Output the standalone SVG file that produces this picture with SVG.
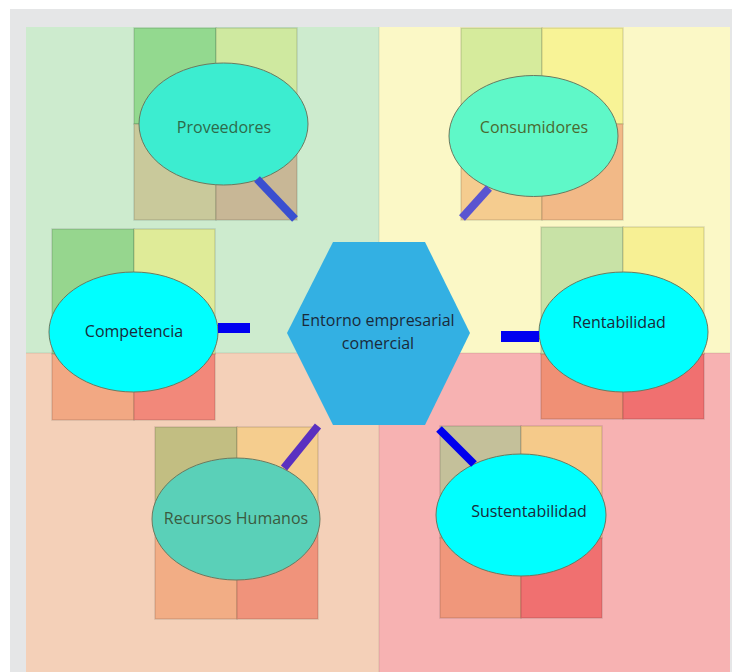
<svg xmlns="http://www.w3.org/2000/svg" width="732" height="672" viewBox="0 0 732 672">
<style>
.cell{stroke:#000;stroke-opacity:0.12;stroke-width:1.5}
.ell{stroke:#6a7a60;stroke-width:1}
.lbl{font-family:"Open Sans","Liberation Sans",sans-serif;font-size:16px;text-anchor:middle}
</style>
<rect x="0" y="0" width="732" height="672" fill="#ffffff"/>
<rect x="10" y="9" width="722" height="663" fill="#e5e6e7"/>
<g id="background">
<rect x="26" y="27" width="353" height="326" fill="#cdebce"/>
<rect x="379" y="27" width="351" height="326" fill="#fbf8c6"/>
<rect x="26" y="353" width="353" height="319" fill="#f4d0b8"/>
<rect x="379" y="353" width="351" height="319" fill="#f7b2b2"/>
<line x1="379" y1="27" x2="379" y2="672" stroke="#000" stroke-opacity="0.1"/>
<line x1="26" y1="353" x2="730" y2="353" stroke="#000" stroke-opacity="0.1"/>
</g>
<g id="proveedores">
<rect class="cell" x="134" y="28" width="82" height="96" fill="#93d98f"/>
<rect class="cell" x="216" y="28" width="81" height="96" fill="#cfe9a0"/>
<rect class="cell" x="134" y="124" width="82" height="96" fill="#c9c99b"/>
<rect class="cell" x="216" y="124" width="81" height="96" fill="#c8b796"/>
<ellipse class="ell" cx="223.5" cy="124" rx="84.5" ry="61" fill="#3cedd0"/>
<text class="lbl" x="224" y="133" fill="#2d6a4a">Proveedores</text>
</g>
<g id="consumidores">
<rect class="cell" x="461" y="28" width="81" height="96" fill="#d6eb9c"/>
<rect class="cell" x="542" y="28" width="81" height="96" fill="#f8f396"/>
<rect class="cell" x="461" y="124" width="81" height="96" fill="#f5cc8f"/>
<rect class="cell" x="542" y="124" width="81" height="96" fill="#f2b987"/>
<ellipse class="ell" cx="533.5" cy="136" rx="84.5" ry="60.5" fill="#5ff8c8"/>
<text class="lbl" x="534" y="133" fill="#4a6a30">Consumidores</text>
</g>
<g id="competencia">
<rect class="cell" x="52" y="229" width="82" height="125" fill="#96d68e"/>
<rect class="cell" x="134" y="229" width="81" height="125" fill="#dfeb98"/>
<rect class="cell" x="52" y="354" width="82" height="66" fill="#f2a883"/>
<rect class="cell" x="134" y="354" width="81" height="66" fill="#f2887a"/>
<ellipse class="ell" cx="133.5" cy="332" rx="84.5" ry="60" fill="#00ffff"/>
<text class="lbl" x="134" y="337" fill="#1a2a3a">Competencia</text>
</g>
<g id="entorno">
<polygon points="333,242 425,242 470,333 425,425 333,425 287,333" fill="#33b0e3"/>
<text class="lbl" x="378" y="326" font-size="15" fill="#1a2a3a">Entorno empresarial</text>
<text class="lbl" x="378" y="349" font-size="15" fill="#1a2a3a">comercial</text>
</g>
<g id="rentabilidad">
<rect class="cell" x="541" y="227" width="82" height="127" fill="#c8e2a6"/>
<rect class="cell" x="623" y="227" width="81" height="127" fill="#f7f094"/>
<rect class="cell" x="541" y="354" width="82" height="65" fill="#f09075"/>
<rect class="cell" x="623" y="354" width="81" height="65" fill="#f07070"/>
<ellipse class="ell" cx="623.5" cy="332" rx="84.5" ry="60" fill="#00ffff"/>
<text class="lbl" x="619" y="328" fill="#1a2a3a">Rentabilidad</text>
</g>
<g id="recursos-humanos">
<rect class="cell" x="155" y="427" width="82" height="96" fill="#c2be82"/>
<rect class="cell" x="237" y="427" width="81" height="96" fill="#f5cd8e"/>
<rect class="cell" x="155" y="523" width="82" height="96" fill="#f2ad85"/>
<rect class="cell" x="237" y="523" width="81" height="96" fill="#f0937b"/>
<ellipse class="ell" cx="236" cy="519" rx="84" ry="61" fill="#5ad0b8"/>
<text class="lbl" x="236" y="524" fill="#3a5a40">Recursos Humanos</text>
</g>
<g id="sustentabilidad">
<rect class="cell" x="440" y="426" width="81" height="112" fill="#c4c09a"/>
<rect class="cell" x="521" y="426" width="81" height="112" fill="#f5ca8a"/>
<rect class="cell" x="440" y="538" width="81" height="80" fill="#f0977b"/>
<rect class="cell" x="521" y="538" width="81" height="80" fill="#f07070"/>
<ellipse class="ell" cx="521" cy="515" rx="85" ry="61" fill="#00ffff"/>
<text class="lbl" x="529" y="517" fill="#1a2a3a">Sustentabilidad</text>
</g>
<g id="connectors">
<line x1="257" y1="179" x2="295" y2="219" stroke="#3a4fd0" stroke-width="8"/>
<line x1="489" y1="188" x2="462" y2="218" stroke="#5a54d0" stroke-width="8"/>
<rect x="218" y="323" width="32" height="10" fill="#0000f0"/>
<rect x="501" y="331" width="38" height="11" fill="#0000f0"/>
<line x1="318" y1="426" x2="284" y2="468" stroke="#5a30c0" stroke-width="8"/>
<line x1="439" y1="429" x2="474" y2="464" stroke="#0000ee" stroke-width="8"/>
</g>
</svg>
